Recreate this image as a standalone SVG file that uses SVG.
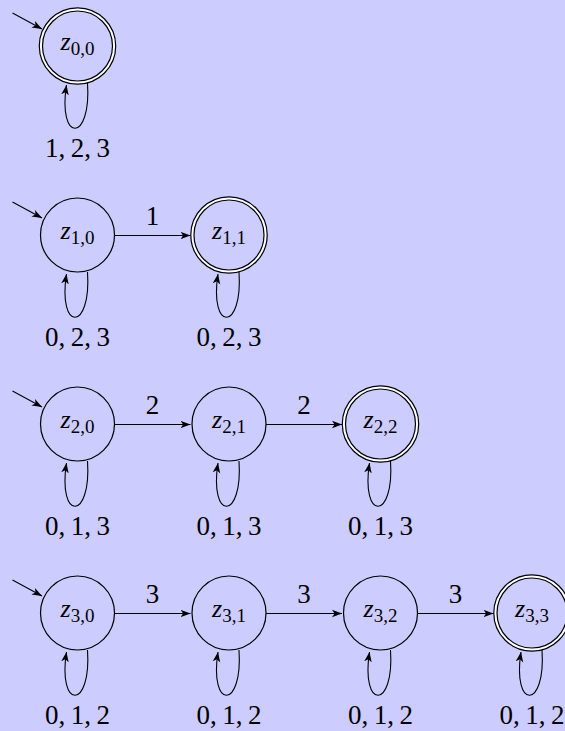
<svg xmlns="http://www.w3.org/2000/svg" width="565" height="731" viewBox="0 0 565 731">
<style>
.st{fill:none;stroke:#000;stroke-width:1.2}
.acc1{fill:none;stroke:#000;stroke-width:4.4}
.acc2{fill:none;stroke:#fff;stroke-width:2}
.e{fill:none;stroke:#000;stroke-width:1.1;marker-end:url(#ah)}
.nl{font-family:"Liberation Serif",serif;font-size:26px;fill:#000}
.nl .z{font-style:italic}
.nl .s{font-size:19px}
.el{font-family:"Liberation Serif",serif;font-size:27px;fill:#000;text-anchor:middle}
</style>
<defs>
<marker id="ah" markerUnits="userSpaceOnUse" markerWidth="12" markerHeight="10" viewBox="0 -5 12 10" refX="10" refY="0" orient="auto">
<path d="M0,-3.8 L10,0 L0,3.8 L2.6,0 Z" fill="#000"/>
</marker>
</defs>
<rect width="565" height="731" fill="#ccccff"/>

<g id="z00">
<circle class="acc1" cx="77.5" cy="46" r="36.6"/><circle class="acc2" cx="77.5" cy="46" r="36.6"/>
<text class="nl" x="77.5" y="49.5" text-anchor="middle"><tspan class="z">z</tspan><tspan class="s" dy="5">0,0</tspan></text>
</g>

<g id="z10">
<circle class="st" cx="77.5" cy="235" r="37"/>
<text class="nl" x="77.5" y="238.5" text-anchor="middle"><tspan class="z">z</tspan><tspan class="s" dy="5">1,0</tspan></text>
</g>
<g id="z11">
<circle class="acc1" cx="229" cy="235" r="36.6"/><circle class="acc2" cx="229" cy="235" r="36.6"/>
<text class="nl" x="229" y="238.5" text-anchor="middle"><tspan class="z">z</tspan><tspan class="s" dy="5">1,1</tspan></text>
</g>

<g id="z20">
<circle class="st" cx="77.5" cy="424" r="37"/>
<text class="nl" x="77.5" y="427.5" text-anchor="middle"><tspan class="z">z</tspan><tspan class="s" dy="5">2,0</tspan></text>
</g>
<g id="z21">
<circle class="st" cx="229" cy="424" r="37"/>
<text class="nl" x="229" y="427.5" text-anchor="middle"><tspan class="z">z</tspan><tspan class="s" dy="5">2,1</tspan></text>
</g>
<g id="z22">
<circle class="acc1" cx="380.5" cy="424" r="36.6"/><circle class="acc2" cx="380.5" cy="424" r="36.6"/>
<text class="nl" x="380.5" y="427.5" text-anchor="middle"><tspan class="z">z</tspan><tspan class="s" dy="5">2,2</tspan></text>
</g>

<g id="z30">
<circle class="st" cx="77.5" cy="613" r="37"/>
<text class="nl" x="77.5" y="616.5" text-anchor="middle"><tspan class="z">z</tspan><tspan class="s" dy="5">3,0</tspan></text>
</g>
<g id="z31">
<circle class="st" cx="229" cy="613" r="37"/>
<text class="nl" x="229" y="616.5" text-anchor="middle"><tspan class="z">z</tspan><tspan class="s" dy="5">3,1</tspan></text>
</g>
<g id="z32">
<circle class="st" cx="380.5" cy="613" r="37"/>
<text class="nl" x="380.5" y="616.5" text-anchor="middle"><tspan class="z">z</tspan><tspan class="s" dy="5">3,2</tspan></text>
</g>
<g id="z33">
<circle class="acc1" cx="532" cy="613" r="36.6"/><circle class="acc2" cx="532" cy="613" r="36.6"/>
<text class="nl" x="532" y="616.5" text-anchor="middle"><tspan class="z">z</tspan><tspan class="s" dy="5">3,3</tspan></text>
</g>

<g id="connectors">
<!-- initial arrows -->
<path class="e" d="M12.5,13 L42,29"/>
<path class="e" d="M12.5,202 L42,218"/>
<path class="e" d="M12.5,391 L42,407"/>
<path class="e" d="M12.5,580 L42,596"/>
<!-- horizontal transitions -->
<path class="e" d="M114.5,235.5 L190.5,235.5"/>
<path class="e" d="M114.5,424.5 L190.5,424.5"/>
<path class="e" d="M266,424.5 L342,424.5"/>
<path class="e" d="M114.5,613.5 L190.5,613.5"/>
<path class="e" d="M266,613.5 L342,613.5"/>
<path class="e" d="M417.5,613.5 L493.5,613.5"/>
<!-- loops -->
<path class="e" d="M87.5,83 C91.5,143 57.5,143 66.5,85"/>
<path class="e" d="M87.5,272 C91.5,332 57.5,332 66.5,274"/>
<path class="e" d="M239,272 C243,332 209,332 218,274"/>
<path class="e" d="M87.5,461 C91.5,521 57.5,521 66.5,463"/>
<path class="e" d="M239,461 C243,521 209,521 218,463"/>
<path class="e" d="M390.5,461 C394.5,521 360.5,521 369.5,463"/>
<path class="e" d="M87.5,650 C91.5,710 57.5,710 66.5,652"/>
<path class="e" d="M239,650 C243,710 209,710 218,652"/>
<path class="e" d="M390.5,650 C394.5,710 360.5,710 369.5,652"/>
<path class="e" d="M542,650 C546,710 512,710 521,652"/>
<!-- edge labels -->
<text class="el" x="152.5" y="225">1</text>
<text class="el" x="152.5" y="414">2</text>
<text class="el" x="304" y="414">2</text>
<text class="el" x="152.5" y="603">3</text>
<text class="el" x="304" y="603">3</text>
<text class="el" x="455.5" y="603">3</text>
<!-- loop labels -->
<text class="el" x="77.5" y="156.5">1,&#8201;2,&#8201;3</text>
<text class="el" x="77.5" y="345.5">0,&#8201;2,&#8201;3</text>
<text class="el" x="229" y="345.5">0,&#8201;2,&#8201;3</text>
<text class="el" x="77.5" y="534.5">0,&#8201;1,&#8201;3</text>
<text class="el" x="229" y="534.5">0,&#8201;1,&#8201;3</text>
<text class="el" x="380.5" y="534.5">0,&#8201;1,&#8201;3</text>
<text class="el" x="77.5" y="723.5">0,&#8201;1,&#8201;2</text>
<text class="el" x="229" y="723.5">0,&#8201;1,&#8201;2</text>
<text class="el" x="380.5" y="723.5">0,&#8201;1,&#8201;2</text>
<text class="el" x="532" y="723.5">0,&#8201;1,&#8201;2</text>
</g>
</svg>
